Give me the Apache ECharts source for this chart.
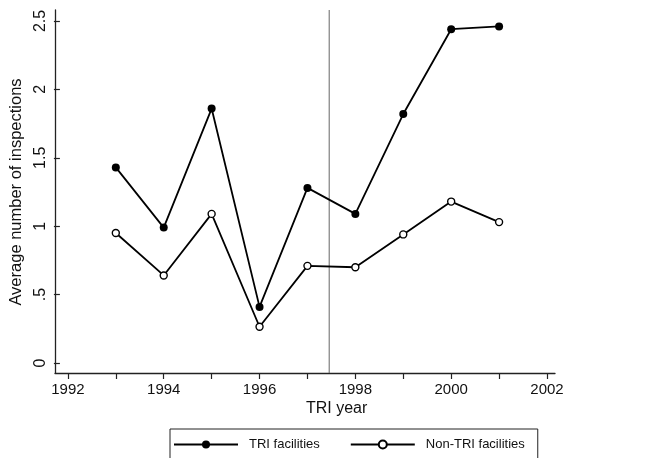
<!DOCTYPE html>
<html>
<head>
<meta charset="utf-8">
<script src="https://cdn.jsdelivr.net/npm/echarts@6/dist/echarts.min.js"></script>
<style>
  html, body { margin: 0; padding: 0; background: #fff; }
  #main { width: 654px; height: 458px; }
</style>
</head>
<body>
<div id="main"></div>
<script>
var years = [1993, 1994, 1995, 1996, 1997, 1998, 1999, 2000, 2001];
var triValues = [1.43, 0.99, 1.86, 0.41, 1.28, 1.09, 1.82, 2.44, 2.46];
var nonTriValues = [0.95, 0.64, 1.09, 0.265, 0.71, 0.70, 0.94, 1.18, 1.03];
var seriesNames = ['TRI facilities', 'Non-TRI facilities'];
var dividerYear = 1997.5;

var font = 'Liberation Sans, Arial, Helvetica, sans-serif';
var myChart = echarts.init(document.getElementById('main'));

function pairs(vals) {
    return years.map(function (y, i) { return [y, vals[i]]; });
}

// outer frame (axis lines + divider) extends a little past the data range
var frameX = [1991.835, 2002.165];
var frameY = [-0.073, 2.58];

option = {
    animation: false,
    textStyle: { fontFamily: font },
    grid: [
        { left: 55, right: 99, top: 10, bottom: 85 },
        { left: 63, right: 107, top: 21, bottom: 95 }
    ],
    xAxis: [
        {
            gridIndex: 0, type: 'value', min: frameX[0], max: frameX[1],
            axisLine: { onZero: false, lineStyle: { color: '#222', width: 1.3 } },
            axisTick: { show: false }, axisLabel: { show: false }, splitLine: { show: false }
        },
        {
            gridIndex: 1, type: 'value', min: 1992, max: 2002, interval: 1,
            offset: 10,
            axisLine: { show: false, onZero: false },
            axisTick: { show: true, length: 6, lineStyle: { color: '#222', width: 1.2 } },
            axisLabel: {
                color: '#111', fontSize: 15, margin: 9, fontFamily: font,
                formatter: function (v) { return v % 2 === 0 ? String(v) : ''; }
            },
            splitLine: { show: false }
        }
    ],
    yAxis: [
        {
            gridIndex: 0, type: 'value', min: frameY[0], max: frameY[1],
            axisLine: { onZero: false, lineStyle: { color: '#222', width: 1.3 } },
            axisTick: { show: false }, axisLabel: { show: false }, splitLine: { show: false }
        },
        {
            gridIndex: 1, type: 'value', min: 0, max: 2.5, interval: 0.5,
            offset: 8,
            name: 'Average number of inspections',
            nameLocation: 'middle',
            nameGap: 27,
            nameTextStyle: { fontSize: 16.5, color: '#111', fontFamily: font },
            axisLine: { show: false, onZero: false },
            axisTick: { show: true, length: 6, lineStyle: { color: '#222', width: 1.2 } },
            axisLabel: {
                color: '#111', fontSize: 16, margin: 11, rotate: 90, fontFamily: font,
                formatter: function (v) { return v === 0 ? '0' : String(v).replace(/^0\./, '.'); }
            },
            splitLine: { show: false }
        }
    ],
    legend: {
        data: seriesNames,
        left: 170,
        top: 429,
        padding: [9, 13, 20, 3],
        borderColor: '#222',
        borderWidth: 1,
        itemWidth: 64,
        itemHeight: 10,
        itemGap: 30,
        textStyle: { fontSize: 13, color: '#111', fontFamily: font, padding: [0, 0, 0, 6] }
    },
    graphic: [
        {
            type: 'text', left: 306, top: 401,
            style: { text: 'TRI year', fontSize: 16, fill: '#111', fontFamily: font }
        }
    ],
    series: [
        {
            name: 'divider', type: 'line', xAxisIndex: 0, yAxisIndex: 0,
            data: [[dividerYear, frameY[0]], [dividerYear, frameY[1]]],
            symbol: 'none', silent: true,
            lineStyle: { color: '#666', width: 1 }
        },
        {
            name: seriesNames[0], type: 'line', xAxisIndex: 1, yAxisIndex: 1,
            data: pairs(triValues),
            symbol: 'circle', symbolSize: 8,
            itemStyle: { color: '#000' },
            lineStyle: { color: '#000', width: 1.8 }
        },
        {
            name: seriesNames[1], type: 'line', xAxisIndex: 1, yAxisIndex: 1,
            data: pairs(nonTriValues),
            symbol: 'circle', symbolSize: 7,
            itemStyle: { color: '#fff', borderColor: '#000', borderWidth: 1.4 },
            lineStyle: { color: '#000', width: 1.8 }
        }
    ]
};

myChart.setOption(option);
</script>
</body>
</html>
